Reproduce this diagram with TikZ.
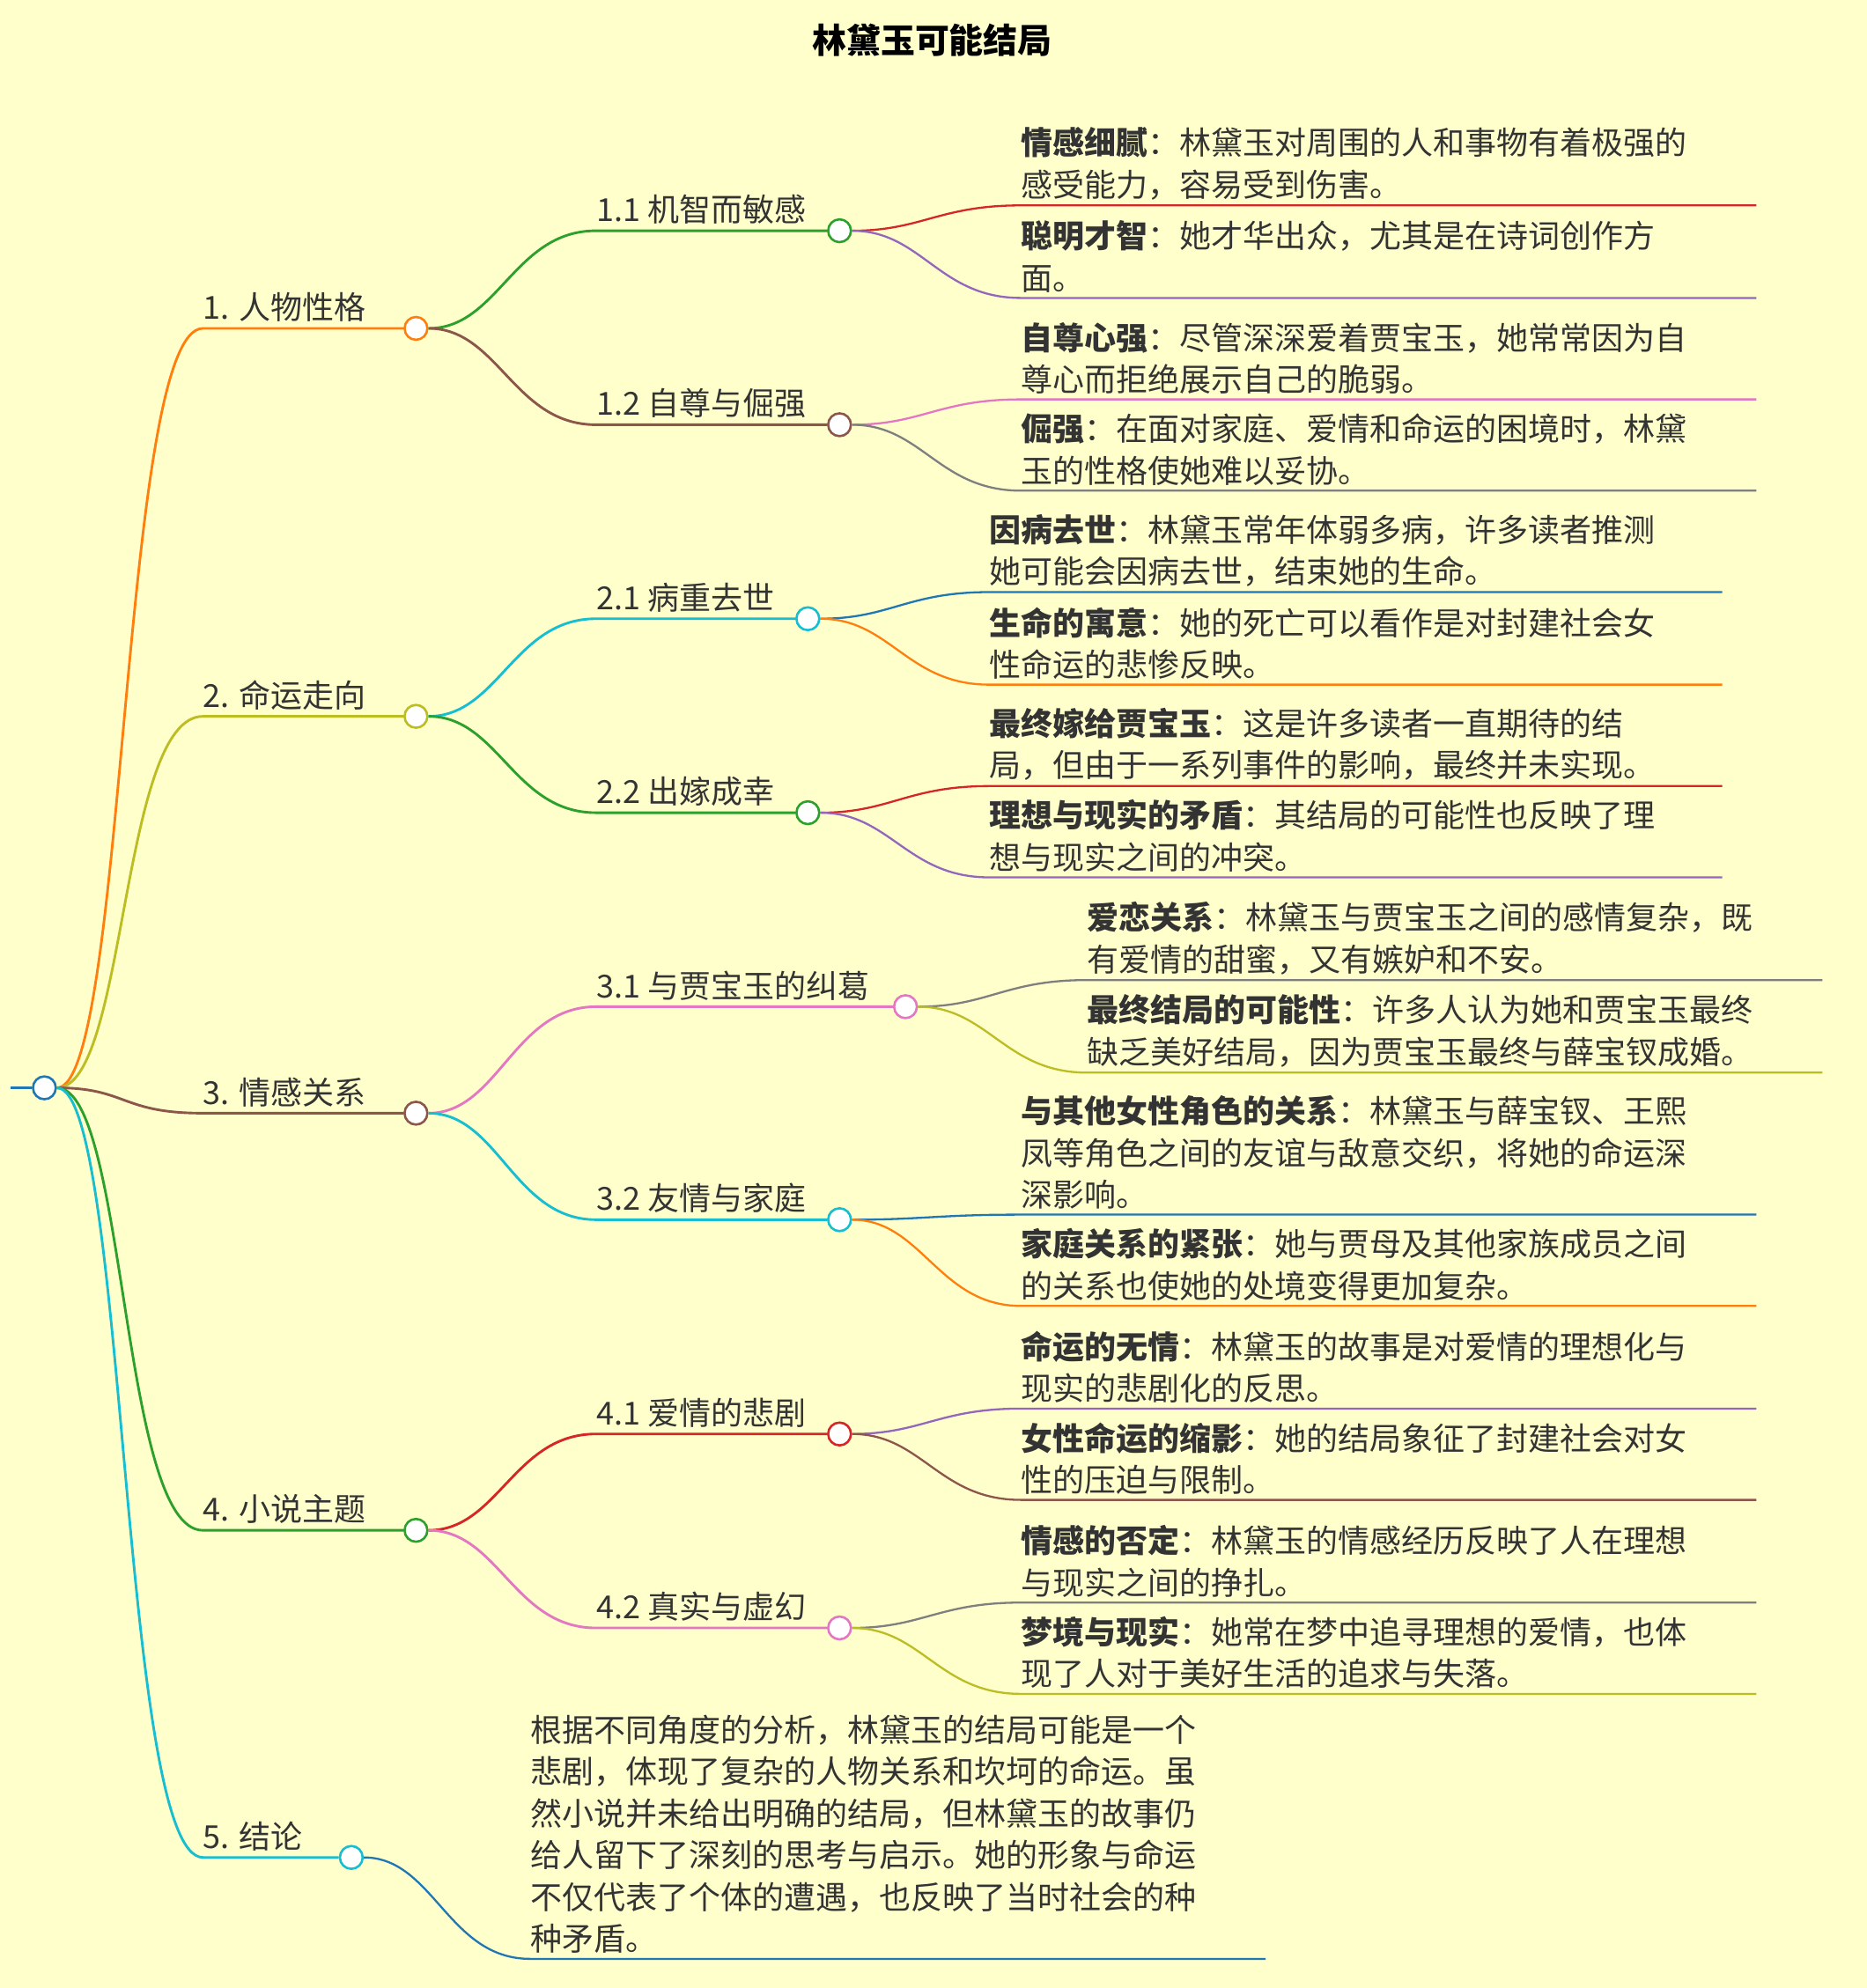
\documentclass[tikz,border=0pt]{standalone}
\usepackage{fontspec}
\setmainfont{Noto Sans CJK SC}
\usepackage{xcolor}
\definecolor{bgc}{HTML}{FFFFCC}
\definecolor{corange}{HTML}{FF7F0E}
\definecolor{colive}{HTML}{BCBD22}
\definecolor{cbrown}{HTML}{8C564B}
\definecolor{cgreen}{HTML}{2CA02C}
\definecolor{ccyan}{HTML}{17BECF}
\definecolor{cred}{HTML}{D62728}
\definecolor{cpurple}{HTML}{9467BD}
\definecolor{cpink}{HTML}{E377C2}
\definecolor{cgray}{HTML}{7F7F7F}
\definecolor{cblue}{HTML}{1F77B4}
\tikzset{dot/.style={circle,draw,fill=white,line width=1.8pt,
                     minimum size=18pt,inner sep=0}}
\tikzset{link/.style={line width=2pt}}
\tikzset{thin link/.style={line width=1.6pt}}
\tikzset{label/.style={anchor=south west,inner sep=0,text=black!80,
                       font=\fontsize{25}{33}\selectfont}}
\tikzset{leaf/.style={label,align=left}}
% branch: name, parent, start x, dot x, y, colour, label
\newcommand{\branch}[7]{%
    \coordinate (#1s) at (#3,#5);
    \node[dot,draw=#6] (#1) at (#4,#5) {};
    \draw[link,#6] (#2) .. controls +(65,0) and +(-65,0) .. (#1s) -- (#1);
    \node[label] at (#3,#5-5) {#7};}
% leaf: name, parent, start x, y, end x, colour, text
\newcommand{\leaf}[7]{%
    \coordinate (#1s) at (#3,#4);
    \coordinate (#1e) at (#5,#4);
    \draw[thin link,#6] (#2) .. controls +(65,0) and +(-65,0) .. (#1s) -- (#1e);
    \node[leaf] at (#3,#4-4) {#7};}
\begin{document}
\begin{tikzpicture}[x=1pt,y=-1pt]
    \useasboundingbox[fill=bgc] (0,0) rectangle (1472,1568);
    \node[font=\fontsize{27}{32}\selectfont\bfseries] (title) at (735,32) {林黛玉可能结局};
    % root
    \coordinate (rootl) at (8,858);
    \node[dot,draw=cblue] (root) at (35,858) {};
    \draw[link,cblue] (rootl) -- (root);
    % first level
    \branch{b1}{root}{160}{328}{259}{corange}{1. 人物性格}
    \branch{b2}{root}{160}{328}{565}{colive}{2. 命运走向}
    \branch{b3}{root}{160}{328}{878}{cbrown}{3. 情感关系}
    \branch{b4}{root}{160}{328}{1207}{cgreen}{4. 小说主题}
    \branch{b5}{root}{160}{277}{1465}{ccyan}{5. 结论}
    % second level
    \branch{b11}{b1}{470}{662}{182}{cgreen}{1.1 机智而敏感}
    \branch{b12}{b1}{470}{662}{335}{cbrown}{1.2 自尊与倔强}
    \branch{b21}{b2}{470}{637}{488}{ccyan}{2.1 病重去世}
    \branch{b22}{b2}{470}{637}{641}{cgreen}{2.2 出嫁成幸}
    \branch{b31}{b3}{470}{714}{794}{cpink}{3.1 与贾宝玉的纠葛}
    \branch{b32}{b3}{470}{662}{962}{ccyan}{3.2 友情与家庭}
    \branch{b41}{b4}{470}{662}{1131}{cred}{4.1 爱情的悲剧}
    \branch{b42}{b4}{470}{662}{1284}{cpink}{4.2 真实与虚幻}
    % leaves
    \leaf{l111}{b11}{805}{162}{1385}{cred}{\textbf{情感细腻}：林黛玉对周围的人和事物有着极强的\\感受能力，容易受到伤害。}
    \leaf{l112}{b11}{805}{235}{1385}{cpurple}{\textbf{聪明才智}：她才华出众，尤其是在诗词创作方\\面。}
    \leaf{l121}{b12}{805}{315}{1385}{cpink}{\textbf{自尊心强}：尽管深深爱着贾宝玉，她常常因为自\\尊心而拒绝展示自己的脆弱。}
    \leaf{l122}{b12}{805}{387}{1385}{cgray}{\textbf{倔强}：在面对家庭、爱情和命运的困境时，林黛\\玉的性格使她难以妥协。}
    \leaf{l211}{b21}{780}{467}{1358}{cblue}{\textbf{因病去世}：林黛玉常年体弱多病，许多读者推测\\她可能会因病去世，结束她的生命。}
    \leaf{l212}{b21}{780}{540}{1358}{corange}{\textbf{生命的寓意}：她的死亡可以看作是对封建社会女\\性命运的悲惨反映。}
    \leaf{l221}{b22}{780}{620}{1358}{cred}{\textbf{最终嫁给贾宝玉}：这是许多读者一直期待的结\\局，但由于一系列事件的影响，最终并未实现。}
    \leaf{l222}{b22}{780}{692}{1358}{cpurple}{\textbf{理想与现实的矛盾}：其结局的可能性也反映了理\\想与现实之间的冲突。}
    \leaf{l311}{b31}{857}{773}{1437}{cgray}{\textbf{爱恋关系}：林黛玉与贾宝玉之间的感情复杂，既\\有爱情的甜蜜，又有嫉妒和不安。}
    \leaf{l312}{b31}{857}{846}{1437}{colive}{\textbf{最终结局的可能性}：许多人认为她和贾宝玉最终\\缺乏美好结局，因为贾宝玉最终与薛宝钗成婚。}
    \leaf{l321}{b32}{805}{958}{1385}{cblue}{\textbf{与其他女性角色的关系}：林黛玉与薛宝钗、王熙\\凤等角色之间的友谊与敌意交织，将她的命运深\\深影响。}
    \leaf{l322}{b32}{805}{1030}{1385}{corange}{\textbf{家庭关系的紧张}：她与贾母及其他家族成员之间\\的关系也使她的处境变得更加复杂。}
    \leaf{l411}{b41}{805}{1111}{1385}{cpurple}{\textbf{命运的无情}：林黛玉的故事是对爱情的理想化与\\现实的悲剧化的反思。}
    \leaf{l412}{b41}{805}{1183}{1385}{cbrown}{\textbf{女性命运的缩影}：她的结局象征了封建社会对女\\性的压迫与限制。}
    \leaf{l421}{b42}{805}{1264}{1385}{cgray}{\textbf{情感的否定}：林黛玉的情感经历反映了人在理想\\与现实之间的挣扎。}
    \leaf{l422}{b42}{805}{1336}{1385}{colive}{\textbf{梦境与现实}：她常在梦中追寻理想的爱情，也体\\现了人对于美好生活的追求与失落。}
    \leaf{l51}{b5}{418}{1545}{998}{cblue}{根据不同角度的分析，林黛玉的结局可能是一个\\悲剧，体现了复杂的人物关系和坎坷的命运。虽\\然小说并未给出明确的结局，但林黛玉的故事仍\\给人留下了深刻的思考与启示。她的形象与命运\\不仅代表了个体的遭遇，也反映了当时社会的种\\种矛盾。}
\end{tikzpicture}
\end{document}
